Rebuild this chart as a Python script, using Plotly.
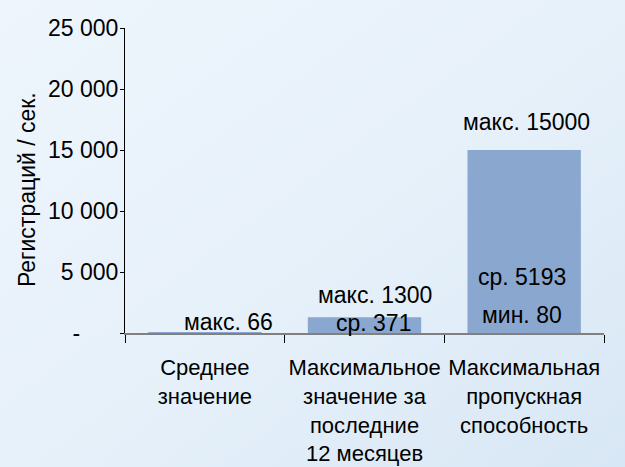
import base64
import plotly.graph_objects as go

# ---- data ----
categories = ["Среднее<br>значение",
              "Максимальное<br>значение за<br>последние<br>12 месяцев",
              "Максимальная<br>пропускная<br>способность"]
max_values = [66, 1300, 15000]
avg_values = [None, 371, 5193]
min_values = [None, None, 80]
y_tickvals = [0, 5000, 10000, 15000, 20000, 25000]
y_ticktext = ["-" + "\u00a0" * 6, "5 000", "10 000", "15 000", "20 000", "25 000"]
y_title = "Регистраций / сек."

FONT = "Arial, Liberation Sans, sans-serif"
FS = 23
x_pos = list(range(len(categories)))

fig = go.Figure()
fig.add_trace(go.Bar(
    x=x_pos, y=max_values, width=0.71,
    marker=dict(color="#8aa7cf", line=dict(width=0)),
    hoverinfo="skip", showlegend=False,
))

L, R, T, B = 125, 21, 28, 134
W, H = 625, 467
pw, ph = W - L - R, H - T - B

# label positions (category offset, value-axis position)
ann = []
label_specs = [
    (0, f"макс. {max_values[0]}", 0.151, 902),
    (1, f"макс. {max_values[1]}", 0.065, 3115),
    (1, f"ср. {avg_values[1]}", 0.059, 820),
    (2, f"макс. {max_values[2]}", 0.017, 17295),
    (2, f"ср. {avg_values[2]}", -0.014, 4590),
    (2, f"мин. {min_values[2]}", -0.014, 1475),
]
for i, txt, dx, yv in label_specs:
    ann.append(dict(x=x_pos[i] + dx, y=yv, xref="x", yref="y", text=txt,
                    showarrow=False, xanchor="center", yanchor="middle",
                    font=dict(family=FONT, size=FS, color="#000")))
ann.append(dict(x=-(L - 27) / pw, y=(H - B - 190) / ph, xref="paper", yref="paper",
                text=y_title, textangle=-90, showarrow=False,
                xanchor="center", yanchor="middle",
                font=dict(family=FONT, size=FS, color="#000")))

svg = ('<svg xmlns="http://www.w3.org/2000/svg" width="625" height="467">'
       '<defs><linearGradient id="g" x1="0" y1="0" x2="1" y2="1">'
       '<stop offset="0" stop-color="#eef5fc"/>'
       '<stop offset="0.5" stop-color="#e7f1fa"/>'
       '<stop offset="1" stop-color="#d8e7f5"/>'
       '</linearGradient></defs>'
       '<rect width="625" height="467" fill="url(#g)"/></svg>')
src = "data:image/svg+xml;base64," + base64.b64encode(svg.encode()).decode()

fig.update_layout(
    width=W, height=H,
    margin=dict(l=L, r=R, t=T, b=B, autoexpand=False),
    paper_bgcolor="#e7f1fa", plot_bgcolor="rgba(0,0,0,0)",
    font=dict(family=FONT, size=FS, color="#000"),
    annotations=ann,
    images=[dict(source=src, xref="paper", yref="paper",
                 x=-L / pw, y=1 + T / ph, sizex=W / pw, sizey=H / ph,
                 sizing="stretch", xanchor="left", yanchor="top", layer="below")],
    xaxis=dict(
        range=[-0.5, 2.5], tickmode="array", tickvals=x_pos, ticktext=categories,
        ticks="", showline=True, linecolor="#808080", linewidth=2,
        showgrid=False, zeroline=False, ticklabelstandoff=14, tickangle=0,
        tickfont=dict(family=FONT, size=22, color="#000"),
        minor=dict(tickmode="array", tickvals=[-0.5, 0.5, 1.5, 2.5],
                   ticks="outside", ticklen=8, tickcolor="#000", tickwidth=1,
                   showgrid=False),
    ),
    yaxis=dict(
        range=[0, 25000], tickmode="array", tickvals=y_tickvals, ticktext=y_ticktext,
        ticks="outside", ticklen=4, tickcolor="#000", showline=True,
        linecolor="#000", linewidth=1, showgrid=False, zeroline=False,
        ticklabelstandoff=-3,
        tickfont=dict(family=FONT, size=FS, color="#000"),
    ),
)

fig.write_html("out.html", config={"displayModeBar": False},
               post_script="document.body.style.margin='0';document.body.style.overflow='hidden';")
